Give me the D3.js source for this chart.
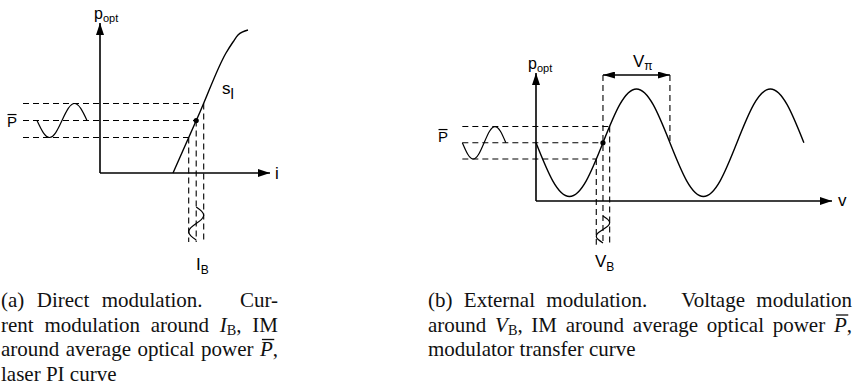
<!DOCTYPE html>
<html>
<head>
<meta charset="utf-8">
<script src="https://cdn.jsdelivr.net/npm/d3@7"></script>
<style>
  html, body { margin: 0; padding: 0; background: #fff; }
  svg { display: block; }
</style>
</head>
<body>
<svg id="fig" width="859" height="391"></svg>
<script>
// ---------- (a) direct modulation: laser PI curve ----------
const piCurrent = [7.3, 10.0, 12.6, 13.3, 13.8, 14.8];   // current (arb. units)
const piPower   = [0.0, 6.1, 12.0, 13.1, 13.8, 14.3];    // optical power (arb. units)
const biasCurrent = 9.62;       // I_B
const avgPowerA = 5.25;         // P̄ on the PI curve
const deltaCurrent = 0.75;      // current swing
const deltaPowerA = 1.7;        // resulting power swing

// ---------- (b) external modulation: modulator transfer curve ----------
const transferV = [0, 0.25, 0.5, 0.75, 1, 1.25, 1.5, 1.75, 2, 2.25, 2.5, 2.75, 3, 3.25, 3.5, 3.75, 4]; // V / Vπ
const transferP = [0.52, 0.18, 0.04, 0.18, 0.52, 0.86, 1.0, 0.86, 0.52, 0.18, 0.04, 0.18, 0.52, 0.86, 1.0, 0.86, 0.52];
const biasVoltage = 1.0;        // V_B
const avgPowerB = 0.52;         // P̄
const deltaVoltage = 0.1;
const deltaPowerB = 0.145;
const vPi = 1.0;

// one period of the modulating signal, sampled every 1/8 period
const wavePhase = [0, 0.125, 0.25, 0.375, 0.5, 0.625, 0.75, 0.875, 1];
const waveValue = [0, 0.71, 1, 0.71, 0, -0.71, -1, -0.71, 0];

// captions
const captionA = [
  ["(a)", "Direct", "modulation.", "Cur-"],
  ["rent", "modulation", "around", [["I", "i"], ["B", "sub"], [","]], "IM"],
  ["around", "average", "optical", "power", [["P", "bar"], [","]]],
  ["laser", "PI", "curve"]
];
const captionB = [
  ["(b)", "External", "modulation.", "Voltage", "modulation"],
  ["around", [["V", "i"], ["B", "sub"], [","]], "IM", "around", "average", "optical", "power", [["P", "bar"], [","]]],
  ["modulator", "transfer", "curve"]
];

const ink = "#000";
const sans = "'Liberation Sans', Arial, Helvetica, sans-serif";
const serif = "'Liberation Serif', 'Times New Roman', Times, serif";
const dash = "6,4";

const svg = d3.select("#fig");
const defs = svg.append("defs");
defs.append("marker")
  .attr("id", "arrowAxis").attr("viewBox", "0 0 12 8")
  .attr("refX", 12).attr("refY", 4)
  .attr("markerWidth", 12).attr("markerHeight", 8)
  .attr("markerUnits", "userSpaceOnUse").attr("orient", "auto-start-reverse")
  .append("path").attr("d", "M0,0L12,4L0,8Z").attr("fill", ink);
defs.append("marker")
  .attr("id", "arrowDim").attr("viewBox", "0 0 12 7")
  .attr("refX", 12).attr("refY", 3.5)
  .attr("markerWidth", 12).attr("markerHeight", 7)
  .attr("markerUnits", "userSpaceOnUse").attr("orient", "auto-start-reverse")
  .append("path").attr("d", "M0,0L12,3.5L0,7Z").attr("fill", ink);

function segment(g, x, y, a, b, opts = {}) {
  const l = g.append("line")
    .attr("x1", x(a[0])).attr("y1", y(a[1]))
    .attr("x2", x(b[0])).attr("y2", y(b[1]))
    .attr("stroke", ink).attr("stroke-width", opts.width || 1.1);
  if (opts.dash) l.attr("stroke-dasharray", opts.dash);
  if (opts.end) l.attr("marker-end", `url(#${opts.end})`);
  if (opts.start) l.attr("marker-start", `url(#${opts.start})`);
  return l;
}

function curve(g, pts, x, y, kind, width) {
  g.append("path")
    .attr("d", d3.line().x(d => x(d[0])).y(d => y(d[1])).curve(kind)(pts))
    .attr("fill", "none").attr("stroke", ink)
    .attr("stroke-width", width).attr("stroke-linejoin", "round");
}

// label with an optional subscript
function label(g, x, y, main, sub, size, subSize, subDy) {
  const t = g.append("text").attr("x", x).attr("y", y)
    .attr("font-family", sans).attr("font-size", size).attr("fill", ink);
  t.append("tspan").text(main);
  if (sub) t.append("tspan").attr("font-size", subSize).attr("dy", subDy).text(sub);
  return t;
}

// "P" with a bar over it
function barLabel(g, x, y, size) {
  const t = g.append("text").attr("x", x).attr("y", y)
    .attr("font-family", sans).attr("font-size", size).attr("fill", ink).text("P");
  const w = t.node().getComputedTextLength();
  g.append("line").attr("x1", x + 0.5).attr("x2", x + w - 0.5)
    .attr("y1", y - size * 0.83).attr("y2", y - size * 0.83)
    .attr("stroke", ink).attr("stroke-width", 1.2);
}

// ================= panel (a) =================
{
  const g = svg.append("g");
  const x = d3.scaleLinear().domain([0, 17]).range([100, 270]);
  const y = d3.scaleLinear().domain([0, 15]).range([173, 23]);
  const iLo = biasCurrent - deltaCurrent, iHi = biasCurrent + deltaCurrent;
  const pLo = avgPowerA - deltaPowerA, pHi = avgPowerA + deltaPowerA;
  const leftEdge = -7.7, bottomEdge = -6.9;

  // axes
  segment(g, x, y, [0, 0], [17, 0], { width: 1.6, end: "arrowAxis" });
  segment(g, x, y, [0, 0], [0, 15], { width: 1.6, end: "arrowAxis" });

  // projection lines
  [[pHi, iHi], [avgPowerA, biasCurrent], [pLo, iLo]].forEach(([p, i]) => {
    segment(g, x, y, [leftEdge, p], [i, p], { dash });
    segment(g, x, y, [i, p], [i, bottomEdge], { dash });
  });

  // PI curve
  curve(g, d3.zip(piCurrent, piPower), x, y, d3.curveMonotoneX, 1.4);

  // bias point
  g.append("circle").attr("cx", x(biasCurrent)).attr("cy", y(avgPowerA)).attr("r", 2.6).attr("fill", ink);

  // output intensity modulation
  curve(g, wavePhase.map((f, k) => [-6.3 + f * 5.0, avgPowerA - deltaPowerA * waveValue[k]]),
        x, y, d3.curveNatural, 1.2);
  // current modulation
  curve(g, wavePhase.map((f, k) => [biasCurrent + deltaCurrent * waveValue[k], -3.4 - f * 3.3]),
        x, y, d3.curveNatural, 1.2);

  label(g, 94, 19, "p", "opt", 16, 11, 3);
  label(g, 275, 179, "i", null, 17);
  label(g, 222, 94, "s", "l", 17, 15, 5);
  label(g, 196, 270, "I", "B", 17, 12, 4);
  barLabel(g, 7, 127, 15);
}

// ================= panel (b) =================
{
  const g = svg.append("g");
  const x = d3.scaleLinear().domain([0, 4.42]).range([536, 832]);
  const y = d3.scaleLinear().domain([0, 1.143]).range([201, 73]);
  const vLo = biasVoltage - deltaVoltage, vHi = biasVoltage + deltaVoltage;
  const pLo = avgPowerB - deltaPowerB, pHi = avgPowerB + deltaPowerB;
  const leftEdge = -1.1, bottomEdge = -0.39, dimLevel = 1.125;

  segment(g, x, y, [0, 0], [4.42, 0], { width: 1.6, end: "arrowAxis" });
  segment(g, x, y, [0, 0], [0, 1.143], { width: 1.6, end: "arrowAxis" });

  [[pHi, vHi], [avgPowerB, biasVoltage], [pLo, vLo]].forEach(([p, v]) =>
    segment(g, x, y, [leftEdge, p], [v, p], { dash }));
  segment(g, x, y, [vHi, pHi], [vHi, bottomEdge], { dash });
  segment(g, x, y, [vLo, pLo], [vLo, bottomEdge], { dash });
  segment(g, x, y, [biasVoltage, dimLevel], [biasVoltage, bottomEdge], { dash });
  segment(g, x, y, [biasVoltage + vPi, dimLevel], [biasVoltage + vPi, avgPowerB], { dash });

  // Vπ dimension arrow
  segment(g, x, y, [biasVoltage, dimLevel], [biasVoltage + vPi, dimLevel],
          { width: 1.3, start: "arrowDim", end: "arrowDim" });

  // transfer curve
  curve(g, d3.zip(transferV, transferP), x, y, d3.curveNatural, 1.4);

  g.append("circle").attr("cx", x(biasVoltage)).attr("cy", y(avgPowerB)).attr("r", 2.6).attr("fill", ink);

  curve(g, wavePhase.map((f, k) => [-1.1 + f * 0.65, avgPowerB - deltaPowerB * waveValue[k]]),
        x, y, d3.curveNatural, 1.2);
  curve(g, wavePhase.map((f, k) => [biasVoltage + deltaVoltage * waveValue[k], -0.134 - f * 0.24]),
        x, y, d3.curveNatural, 1.2);

  label(g, 528, 69, "p", "opt", 16, 11, 3);
  label(g, 838, 206, "v", null, 17);
  label(g, 633, 67, "V", "π", 17, 12, 3);
  label(g, 595, 267, "V", "B", 17, 12, 4);
  barLabel(g, 438, 142, 15);
}

// ================= captions =================
const capSize = 21;
const capColor = "#111";

function makeWord(g, word) {
  const segs = typeof word === "string" ? [[word]] : word;
  const t = g.append("text").attr("font-family", serif).attr("font-size", capSize).attr("fill", capColor);
  let shift = 0, barIndex = -1, count = 0;
  segs.forEach(([str, style]) => {
    const ts = t.append("tspan").text(str);
    if (style === "i" || style === "bar") ts.attr("font-style", "italic");
    if (style === "bar") barIndex = count;
    if (style === "sub") {
      ts.attr("font-size", capSize * 0.68).attr("dy", capSize * 0.15);
      shift += capSize * 0.15;
    } else if (shift) {
      ts.attr("dy", -shift);
      shift = 0;
    }
    count += str.length;
  });
  return { t, barIndex };
}

function caption(lines, x0, x1, y0, lead) {
  const g = svg.append("g");
  lines.forEach((line, li) => {
    const yb = y0 + li * lead;
    const words = line.map(w => makeWord(g, w));
    const widths = words.map(w => w.t.node().getComputedTextLength());
    const last = li === lines.length - 1;
    const weights = line.slice(0, -1).map(w => (typeof w === "string" && w.endsWith(".")) ? 3 : 1);
    const total = d3.sum(widths);
    const gap = last ? capSize * 0.25 : (x1 - x0 - total) / d3.sum(weights);
    let cx = x0;
    words.forEach((w, k) => {
      w.t.attr("x", cx).attr("y", yb);
      if (w.barIndex >= 0) {
        const ext = w.t.node().getExtentOfChar(w.barIndex);
        g.append("line")
          .attr("x1", ext.x + 2).attr("x2", ext.x + ext.width + 1.5)
          .attr("y1", yb - 16.5).attr("y2", yb - 16.5)
          .attr("stroke", capColor).attr("stroke-width", 1.3);
      }
      cx += widths[k] + (k < weights.length ? gap * (last ? 1 : weights[k]) : 0);
    });
  });
}

caption(captionA, 1, 278, 307, 24.5);
caption(captionB, 428, 852, 307, 24.5);
</script>
</body>
</html>
